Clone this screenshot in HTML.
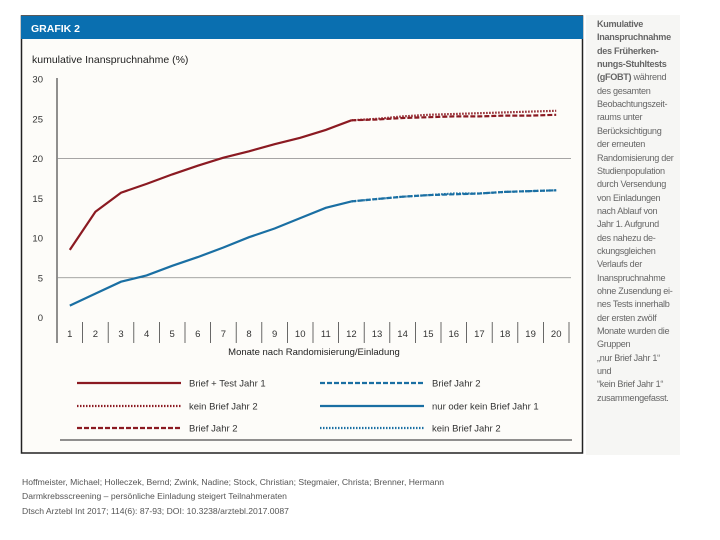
<!DOCTYPE html>
<html><head><meta charset="utf-8"><style>
body{margin:0;width:720px;height:540px;background:#fff;font-family:"Liberation Sans",sans-serif;position:relative;overflow:hidden}
.cite{position:absolute;left:22px;font-size:8.6px;color:#555}
.side{position:absolute;left:586px;top:15px;width:94px;height:440px;background:#f6f6f4}
.side div{position:absolute;left:11px;font-size:9.1px;color:#666;white-space:nowrap;letter-spacing:-0.3px}
</style></head><body>
<svg width="720" height="540" style="position:absolute;left:0;top:0">
<rect x="21.5" y="16" width="561" height="437" fill="#fdfcf9" stroke="#222" stroke-width="1.5"/>
<rect x="21" y="16" width="562" height="23" fill="#0a6fb0"/>
<text x="31" y="32" font-size="10.5" font-weight="bold" fill="#fff">GRAFIK 2</text>
<text x="32" y="63" font-size="10.5" fill="#222">kumulative Inanspruchnahme (%)</text>
<g id="grid"></g><g id="series"></g><g id="legend"></g>
<text x="314" y="355" font-size="9.5" fill="#222" text-anchor="middle">Monate nach Randomisierung/Einladung</text>
</svg>
<div class="side" id="side"></div>
<div class="cite" style="top:477px">Hoffmeister, Michael; Holleczek, Bernd; Zwink, Nadine; Stock, Christian; Stegmaier, Christa; Brenner, Hermann</div>
<div class="cite" style="top:491px">Darmkrebsscreening – persönliche Einladung steigert Teilnahmeraten</div>
<div class="cite" style="top:506px">Dtsch Arztebl Int 2017; 114(6): 87-93; DOI: 10.3238/arztebl.2017.0087</div>
<script>
const months=[1,2,3,4,5,6,7,8,9,10,11,12,13,14,15,16,17,18,19,20];
const yTicks=[0,5,10,15,20,25,30];
const redYear1=[8.5,13.3,15.7,16.8,18,19.1,20.1,20.9,21.8,22.6,23.6,24.8];
const redKein2=[24.8,25.0,25.3,25.5,25.6,25.7,25.8,25.9,26.0,26.1];
const redBrief2=[24.8,24.9,25.1,25.2,25.3,25.3,25.4,25.4,25.5,25.5];
const blueYear1=[1.5,3.0,4.5,5.3,6.5,7.6,8.8,10.1,11.2,12.5,13.8,14.6];
const blueBrief2=[14.6,14.9,15.2,15.4,15.5,15.6,15.8,15.9,16.0,16.1];
const blueKein2=[14.6,14.9,15.2,15.4,15.6,15.6,15.8,15.9,16.0,16.1];
const legendLabels=["Brief + Test Jahr 1","kein Brief Jahr 2","Brief Jahr 2","Brief Jahr 2","nur oder kein Brief Jahr 1","kein Brief Jahr 2"];
const sideLines=["Kumulative","Inanspruchnahme","des Früherken-","nungs-Stuhltests","(gFOBT) während","des gesamten","Beobachtungszeit-","raums unter","Berücksichtigung","der erneuten","Randomisierung der","Studienpopulation","durch Versendung","von Einladungen","nach Ablauf von","Jahr 1. Aufgrund","des nahezu de-","ckungsgleichen","Verlaufs der","Inanspruchnahme","ohne Zusendung ei-","nes Tests innerhalb","der ersten zwölf","Monate wurden die","Gruppen","„nur Brief Jahr 1“","und","“kein Brief Jahr 1“","zusammengefasst."];
const NS="http://www.w3.org/2000/svg";
const RED="#8b1a22",BLUE="#1a6fa3";
const x0=57,step=25.6;
const xs=m=>x0+(m-0.5)*step;
const ys=v=>317.5-v*7.95;
function mk(t,a,p){const e=document.createElementNS(NS,t);for(const k in a)e.setAttribute(k,a[k]);p.appendChild(e);return e;}
const g=document.getElementById('grid');
let ax=mk('line',{x1:x0,x2:x0,y1:78,y2:343,stroke:'#222','stroke-width':1},g);


yTicks.forEach(v=>{
  if(v==5||v==20){const l=mk('line',{x1:x0,x2:571,y1:ys(v),y2:ys(v),stroke:'#888','stroke-width':0.8},g);
  
  }
  const t=mk('text',{x:43,y:ys(v)+3.5,'font-size':9.5,fill:'#333','text-anchor':'end'},g);t.textContent=v;
  
  
});
months.forEach(m=>{
  const l=mk('line',{x1:x0+m*step,x2:x0+m*step,y1:322,y2:343,stroke:'#444','stroke-width':0.8},g);
  
  
  const t=mk('text',{x:xs(m),y:337,'font-size':9.5,fill:'#333','text-anchor':'middle'},g);t.textContent=m;
  
  
});
const s=document.getElementById('series');
function line(vals,start,col,dash,name){
  const pts=vals.map((v,i)=>xs(months[start+i]).toFixed(1)+','+ys(v).toFixed(1)).join(' ');
  const p=mk('polyline',{points:pts,fill:'none',stroke:col,'stroke-width':2.2,'stroke-dasharray':dash},s);
  
  
}
line(blueBrief2,11,BLUE,'5 2','series-blue-brief-jahr2');
line(blueKein2,11,BLUE,'1.5 1.5','series-blue-kein-brief-jahr2');
line(blueYear1,0,BLUE,'none','series-nur-oder-kein-brief-jahr1');
line(redBrief2,11,RED,'5 2','series-red-brief-jahr2');
line(redKein2,11,RED,'1.5 1.5','series-red-kein-brief-jahr2');
line(redYear1,0,RED,'none','series-brief-test-jahr1');
const lg=document.getElementById('legend');
const lstyles=[[RED,'none'],[RED,'1.5 1.5'],[RED,'5 2'],[BLUE,'5 2'],[BLUE,'none'],[BLUE,'1.5 1.5']];
const rowY=[383,406,428];
legendLabels.forEach((lab,i)=>{
  const col=i<3?0:1,r=i%3;const lx=col?320:77;
  const l=mk('line',{x1:lx,x2:lx+104,y1:rowY[r],y2:rowY[r],stroke:lstyles[i][0],'stroke-width':2.2,'stroke-dasharray':lstyles[i][1]},lg);
  
  
  const t=mk('text',{x:lx+112,y:rowY[r]+3.5,'font-size':9.5,fill:'#333'},lg);t.textContent=lab;
  
  
});
const lb=mk('line',{x1:60,x2:572,y1:440,y2:440,stroke:'#222','stroke-width':1},lg);


const side=document.getElementById('side');
sideLines.forEach((t,i)=>{const d=document.createElement('div');d.textContent=t;d.style.top=(4+i*13.35)+'px';
 if(i<5){d.style.fontWeight='bold';}
 if(i==4){d.innerHTML='<b>(gFOBT)</b> <span style="font-weight:normal">während</span>';}
 
 
 side.appendChild(d);});
</script>
</body></html>
